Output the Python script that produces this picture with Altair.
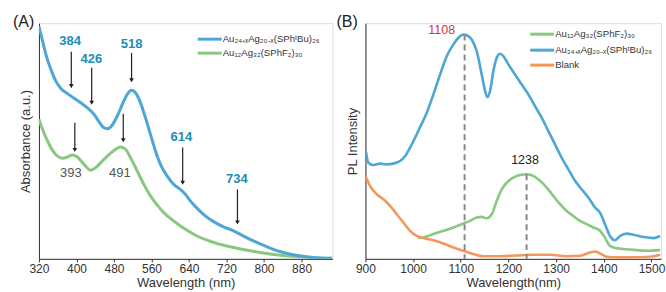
import altair as alt
import pandas as pd

# ---------------- Panel A : absorbance ----------------
a_blue_wl = [320, 327.8, 334.9, 345.5, 356.1, 366.7, 380.9, 395, 409.2, 423.3, 437.5, 448.1,
             458.7, 465.8, 476.4, 487.1, 497.7, 508.3, 517.5, 526, 536.6, 547.2, 557.8, 568.5,
             579.1, 593.2, 607.4, 621.5, 632.2, 642.8, 656.9, 674.6, 692.3, 713.6, 734.8, 756,
             777.3, 805.6, 833.9, 862.2, 890.5, 918.8, 945]
a_blue_abs = [98.7, 92.4, 86.7, 80.4, 75.4, 72.3, 70.1, 68.1, 66.2, 64.1, 61.3, 58.2,
              55.6, 55.2, 56.8, 60.6, 65.5, 69.8, 71.5, 70.5, 66.2, 59.9, 52.8, 45.8,
              40.1, 35.2, 31.6, 29.5, 27.4, 24.6, 21.5, 18.2, 15.8, 13.6, 11.9, 9.7,
              7.6, 5.2, 3.1, 1.7, 0.85, 0.4, 0.3]
a_green_wl = [320, 327.8, 338.4, 349, 359.6, 370.3, 380.9, 391.5, 402.1, 416.3, 430.4, 441,
              451.7, 465.8, 480, 494.1, 504.7, 515.3, 529.5, 543.7, 557.8, 572, 586.2, 600.3,
              614.5, 635.7, 656.9, 678.2, 699.4, 734.8, 770.2, 805.6, 841, 876.4, 911.8, 945]
a_green_abs = [59.2, 54.9, 50, 46, 43.6, 42.7, 43.2, 44.1, 43.2, 40.1, 37.6, 38.7,
               40.8, 43.6, 46, 47.5, 46.5, 42.9, 37.3, 31.6, 26.7, 22.9, 19.6, 17.2,
               15, 12.1, 9.7, 7.9, 6.5, 4.8, 3.4, 2.3, 1.4, 0.85, 0.4, 0.2]
a_series = ["Au₂₄₊ₓAg₂₀₋ₓ(SPhᵗBu)₂₆", "Au₁₂Ag₃₂(SPhF₂)₃₀"]
a_xticks = [320, 400, 480, 560, 640, 720, 800, 880]

# arrows / peak labels in panel A
a_arrow_x = [389, 432.5, 517.5, 626.5, 743.3, 396.5, 499.8]
a_arrow_top = [87.9, 81.1, 87.4, 47.2, 29.5, 57.8, 61.6]
a_arrow_tip = [73.3, 66.2, 75.8, 32.3, 15.4, 46.2, 50.3]
a_peak_text = ["384", "426", "518", "614", "734"]
a_peak_x = [386.5, 431.8, 517.5, 623.7, 741.9]
a_peak_y = [92.4, 84.6, 91.2, 51.7, 33.8]
a_grey_text = ["393", "491"]
a_grey_x = [388, 492.7]
a_grey_y = [36.6, 36.6]

# ---------------- Panel B : PL ----------------
b_blue_wl = [901.4, 906, 916.8, 930.7, 944.7, 958.7, 972.7, 983.2, 993.6, 1004.1, 1014.6, 1028.6,
             1042.6, 1056.5, 1070.5, 1084.5, 1095, 1105.5, 1112.4, 1122.9, 1133.4, 1143.9, 1150.9,
             1155.8, 1161.4, 1168.4, 1175.4, 1182.3, 1189.3, 1199.8, 1213.8, 1227.8, 1241.8, 1255.8,
             1269.7, 1283.7, 1297.6, 1311.6, 1325.6, 1339.6, 1353.6, 1367.6, 1381.6, 1392, 1402.5,
             1413, 1423.5, 1434, 1447.9, 1461.9, 1482.8, 1503.8, 1518]
b_blue_pl = [45.1, 40.8, 39.8, 40.4, 40.1, 40.4, 41.5, 43.6, 47.2, 51.4, 55.9, 62,
             69.8, 78.2, 86, 91, 93.8, 95.2, 94.9, 93.1, 88.1, 78.2, 71.2,
             68.6, 71.2, 79.7, 85.3, 87, 86, 82.5, 78.2, 74, 69.8, 64.8,
             59.9, 54.2, 48.6, 42.9, 38, 33.1, 29.5, 26, 21.8, 19.6, 14.7,
             9.7, 7.9, 9.7, 10.7, 10.2, 9.3, 8.8, 9.7]
b_green_wl = [1011, 1025, 1042.6, 1063.5, 1084.5, 1105.5, 1119.4, 1133.4, 1143.9, 1154.4, 1164.9,
              1175.4, 1185.8, 1196.3, 1210.3, 1224.2, 1238.2, 1252.2, 1266.2, 1280.2, 1294.2,
              1308.2, 1322.1, 1336.1, 1350.1, 1364.1, 1378.1, 1392, 1402.5, 1413, 1427, 1447.9,
              1468.9, 1489.9, 1518]
b_green_pl = [8.8, 9.3, 10.5, 11.9, 13.3, 15, 16.1, 17.5, 17.8, 17.2, 18.9,
              24.6, 29.5, 32.3, 34.5, 35.6, 35.9, 35.2, 33.1, 30.2, 26.7,
              23.2, 20.3, 18.2, 16.1, 14.7, 13.3, 11.9, 9, 5.5, 4.5, 4.1,
              3.7, 3.4, 3.7]
b_orange_wl = [900, 909.8, 923.8, 937.7, 951.7, 965.7, 979.7, 993.6, 1007.6, 1021.6, 1042.6, 1063.5,
               1084.5, 1105.5, 1126.4, 1147.4, 1182.3, 1217.3, 1252.2, 1287.1, 1322.1, 1350.1,
               1371, 1381.6, 1392, 1406, 1427, 1461.9, 1496.8, 1518]
b_orange_pl = [35.2, 30.9, 27.4, 25.3, 22.5, 18.9, 15.4, 11.9, 9.7, 8.8, 7.9, 6.5,
               4.8, 3.4, 2.0, 1.1, 1.1, 1.4, 1.7, 1.7, 1.1, 1.3,
               2.7, 3.1, 2.3, 0.85, 0.6, 0.6, 0.85, 1.7]
b_series = ["Au₁₂Ag₃₂(SPhF₂)₃₀", "Au₂₄₊ₓAg₂₀₋ₓ(SPhᵗBu)₂₆", "Blank"]
b_xticks = [900, 1000, 1100, 1200, 1300, 1400, 1500]
b_peak_x = [1108, 1238]
b_peak_top = [95.2, 35.9]
b_peak_text = ["1108", "1238"]
b_peak_text_x = [1060, 1234.7]
b_peak_text_y = [96.9, 41.8]

BLUE = "#4EA6D6"
GREEN = "#88C97F"
ORANGE = "#F5975C"
TEAL = "#1C8DB5"
FONT = "Liberation Sans"
W_A, W_B, H = 294, 296, 236


def xaxis(values, title):
    return alt.Axis(values=values, title=title, grid=False, tickSize=3, labelPadding=2,
                    labelFontSize=12, titleFontSize=13, titleFontWeight="normal", format="d",
                    labelFlush=False, labelOverlap=False,
                    labelColor="#333", titleColor="#333", domainColor="#333",
                    tickColor="#333", titlePadding=2, labelFont=FONT, titleFont=FONT)


def yaxis(title):
    return alt.Axis(labels=False, ticks=False, grid=False, title=title, titleFontSize=13,
                    titleFontWeight="normal", titleColor="#333", domainColor="#333",
                    titlePadding=6, titleFont=FONT)


def legend_row(label, color, x0, y):
    d = pd.DataFrame({"s": [label]})
    line = alt.Chart(d).mark_rule(strokeWidth=3, color=color).encode(
        x=alt.value(x0), x2=alt.value(x0 + 24), y=alt.value(y))
    txt = alt.Chart(d).mark_text(align="left", baseline="middle", fontSize=9.6,
                                 color="#333", font=FONT).encode(
        x=alt.value(x0 + 25), y=alt.value(y), text="s:N")
    return [line, txt]


def series_line(wl, vals, color, scx, axis_x, axis_y, width):
    d = pd.DataFrame({"wl": wl, "v": vals})
    return alt.Chart(d).mark_line(strokeWidth=width, clip=True, interpolate="monotone",
                                  color=color).encode(
        x=alt.X("wl:Q", scale=scx, axis=axis_x),
        y=alt.Y("v:Q", scale=scy, axis=axis_y))


scy = alt.Scale(domain=[0, 100], nice=False, zero=False)

# ---------- panel A ----------
scxA = alt.Scale(domain=[320, 946], nice=False, zero=False)
axA_x = xaxis(a_xticks, "Wavelength (nm)")
axA_y = yaxis("Absorbance (a.u.)")
lineA_green = series_line(a_green_wl, a_green_abs, GREEN, scxA, axA_x, axA_y, 3)
lineA_blue = series_line(a_blue_wl, a_blue_abs, BLUE, scxA, axA_x, axA_y, 3)
arrA = pd.DataFrame({"x": a_arrow_x, "y1": a_arrow_top, "y2": a_arrow_tip})
rulesA = alt.Chart(arrA).mark_rule(color="#222", strokeWidth=1.2).encode(
    x=alt.X("x:Q", scale=scxA), y=alt.Y("y1:Q", scale=scy), y2="y2:Q")
tipsA = alt.Chart(arrA).mark_point(shape="triangle-down", filled=True, size=22, color="#222",
                                   opacity=1).encode(x=alt.X("x:Q", scale=scxA),
                                                     y=alt.Y("y2:Q", scale=scy))
peakA = alt.Chart(pd.DataFrame({"t": a_peak_text, "x": a_peak_x, "y": a_peak_y})).mark_text(
    color=TEAL, fontSize=13, fontWeight="bold", font=FONT).encode(
    x=alt.X("x:Q", scale=scxA), y=alt.Y("y:Q", scale=scy), text="t:N")
greyA = alt.Chart(pd.DataFrame({"t": a_grey_text, "x": a_grey_x, "y": a_grey_y})).mark_text(
    color="#555", fontSize=13, font=FONT).encode(
    x=alt.X("x:Q", scale=scxA), y=alt.Y("y:Q", scale=scy), text="t:N")
labA = alt.Chart(pd.DataFrame({"t": ["(A)"]})).mark_text(
    align="left", baseline="top", fontSize=16, color="#222", font=FONT).encode(
    x=alt.value(-26), y=alt.value(-9), text="t:N")
legA = legend_row(a_series[0], BLUE, 159, 16) + legend_row(a_series[1], GREEN, 159, 30)

panelA = alt.layer(lineA_green, lineA_blue, rulesA, tipsA, peakA, greyA, labA, *legA).properties(
    width=W_A, height=H)

# ---------- panel B ----------
scxB = alt.Scale(domain=[900, 1520], nice=False, zero=False)
axB_x = xaxis(b_xticks, "Wavelength(nm)")
axB_y = yaxis("PL Intensity")
lineB_blue = series_line(b_blue_wl, b_blue_pl, BLUE, scxB, axB_x, axB_y, 2.6)
lineB_green = series_line(b_green_wl, b_green_pl, GREEN, scxB, axB_x, axB_y, 2.6)
lineB_orange = series_line(b_orange_wl, b_orange_pl, ORANGE, scxB, axB_x, axB_y, 2.6)
dashB = alt.Chart(pd.DataFrame({"x": b_peak_x, "y1": b_peak_top, "y2": [0, 0]})).mark_rule(
    color="#888", strokeWidth=2, strokeDash=[6, 4]).encode(
    x=alt.X("x:Q", scale=scxB), y=alt.Y("y1:Q", scale=scy), y2="y2:Q")
peakB1 = alt.Chart(pd.DataFrame({"t": b_peak_text[:1], "x": b_peak_text_x[:1],
                                 "y": b_peak_text_y[:1]})).mark_text(
    fontSize=12.5, font=FONT, color="#D2363A").encode(
    x=alt.X("x:Q", scale=scxB), y=alt.Y("y:Q", scale=scy), text="t:N")
peakB2 = alt.Chart(pd.DataFrame({"t": b_peak_text[1:], "x": b_peak_text_x[1:],
                                 "y": b_peak_text_y[1:]})).mark_text(
    fontSize=12.5, font=FONT, color="#222").encode(
    x=alt.X("x:Q", scale=scxB), y=alt.Y("y:Q", scale=scy), text="t:N")
labB = alt.Chart(pd.DataFrame({"t": ["(B)"]})).mark_text(
    align="left", baseline="top", fontSize=16, color="#222", font=FONT).encode(
    x=alt.value(-29), y=alt.value(-9), text="t:N")
legB = (legend_row(b_series[0], GREEN, 165, 11) + legend_row(b_series[1], BLUE, 165, 27)
        + legend_row(b_series[2], ORANGE, 165, 42))

panelB = alt.layer(lineB_blue, lineB_green, lineB_orange, dashB, peakB1, peakB2, labB,
                   *legB).properties(width=W_B, height=H)

chart = alt.hconcat(panelA, panelB, spacing=33, bounds="flush").properties(
    padding={"left": 12, "top": 13, "right": 0, "bottom": 0}
).configure_view(stroke="#333", strokeWidth=1.2).configure(background="white")

chart.save("out.html", embed_options={"renderer": "svg", "actions": False})
